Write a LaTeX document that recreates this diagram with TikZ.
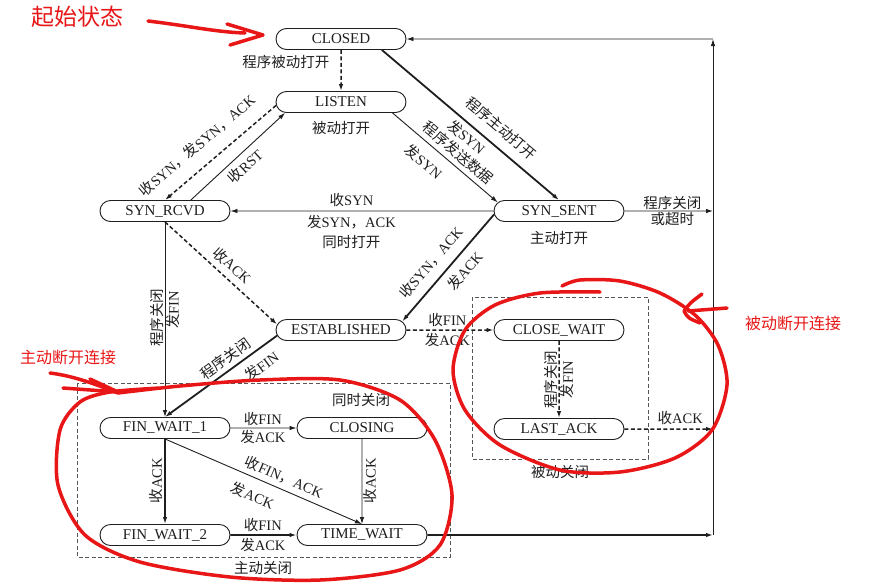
\documentclass[tikz,border=0pt]{standalone}
\usepackage{fontspec}
\setmainfont{Liberation Serif}
\newfontfamily\cjk{Noto Sans CJK SC}
\usetikzlibrary{arrows.meta,shapes.misc,positioning}
\newcommand{\zh}[1]{{\cjk #1}}
\definecolor{ink}{RGB}{30,30,30}
\definecolor{pen}{RGB}{232,22,22}
\tikzstyle{edge} = [draw=ink,line width=0.9pt,-{Latex[length=7pt,width=4.5pt]}]
\tikzstyle{hi} = [edge,line width=1.8pt]
\tikzstyle{lo} = [edge,line width=1.5pt,dash pattern=on 4pt off 2.5pt]
\tikzstyle{box} = [draw=ink!75,line width=0.8pt,dash pattern=on 4pt off 2.5pt]
\tikzstyle{redpen} = [draw=pen,line width=3.5pt,line cap=round,line join=round]

\begin{document}
\begin{tikzpicture}[x=1pt,y=-1pt,
  state/.style={rounded rectangle,draw=ink,line width=0.9pt,minimum width=130pt,
    minimum height=21pt,inner sep=0pt,text=ink,font=\fontsize{15}{17}\selectfont},
  lab/.style={inner sep=1pt,text=ink,font=\fontsize{14.5}{16}\selectfont},
  redtxt/.style={text=pen,font=\cjk\fontsize{16}{18}\selectfont}]
    \useasboundingbox (0,0) rectangle (886,587);

    % states
    \node[state] (CL) at (341,39) {CLOSED};
    \node[state] (LI) at (341,102) {LISTEN};
    \node[state] (SR) at (165,211) {SYN\_RCVD};
    \node[state] (SS) at (559,211) {SYN\_SENT};
    \node[state] (ES) at (341,330) {ESTABLISHED};
    \node[state] (CW) at (559,330) {CLOSE\_WAIT};
    \node[state] (LA) at (559,429) {LAST\_ACK};
    \node[state] (F1) at (165,428) {FIN\_WAIT\_1};
    \node[state] (CG) at (362,428) {CLOSING};
    \node[state] (F2) at (165,535) {FIN\_WAIT\_2};
    \node[state] (TW) at (362,535) {TIME\_WAIT};

    \coordinate (R0) at (713,39);
    \coordinate (R1) at (713,211);
    \coordinate (R2) at (713,429);
    \coordinate (R3) at (713,535);

    \node[lab,below=7pt of LI] (t33) {\zh{被动打开}};
    \node[lab,below=8pt of SS] (t34) {\zh{主动打开}};

    % groups
    \draw[box] (77,383) rectangle (450,557);
    \draw[box] (472,297) rectangle (648,459);
    \node[lab] (g1) at (361,400) {\zh{同时关闭}};
    \node[lab] (g2) at (263,568) {\zh{主动关闭}};
    \node[lab] (g3) at (560,472) {\zh{被动关闭}};

    % transitions
    \draw[lo] (CL) -- (LI) node[lab,left=10pt,pos=0.3] (t1) {\zh{程序被动打开}};
    \draw[lo] (LI.183) -- (SR.north)
        node[lab,sloped,above=12pt,pos=0.59] (t2) {\zh{收}SYN\zh{，发}SYN\zh{，}ACK};
    \draw[edge] (SR.23) -- (LI.191) node[lab,sloped,below=4pt,pos=0.49] (t3) {\zh{收}RST};
    \draw[hi] (CL.-15) -- (SS.north)
        node[lab,sloped,above=9pt,pos=0.61] (t4) {\zh{程序主动打开}}
        node[lab,sloped,below=3pt,pos=0.52] (t5) {\zh{发}SYN};
    \draw[edge] (LI.-12) -- (SS.172)
        node[lab,sloped,above=4pt,pos=0.55] (t6) {\zh{程序发送数据}}
        node[lab,sloped,below=9pt,pos=0.40] (t7) {\zh{发}SYN};
    \draw[edge] (SS) -- (SR)
        node[lab,above=3pt,pos=0.54] (t8) {\zh{收}SYN}
        node[lab,below=3pt,pos=0.54] (t9) {\zh{发}SYN\zh{，}ACK};
    \node[lab,below=3pt of t9] (t10) {\zh{同时打开}};
    \draw[hi] (SS.183) -- (ES.8)
        node[lab,sloped,above=8pt,pos=0.55] (t11) {\zh{收}SYN\zh{，}ACK}
        node[lab,sloped,below=6pt,pos=0.44] (t12) {\zh{发}ACK};
    \draw[lo] (SR.south) -- (ES.175) node[lab,sloped,above=5pt,pos=0.52] (t13) {\zh{收}ACK};
    \draw[edge] (SR.south) -- (F1.north)
        node[lab,rotate=90,anchor=south,pos=0.49] (t14) {\zh{程序关闭}}
        node[lab,rotate=90,anchor=north,pos=0.45] (t15) {\zh{发}FIN};
    \draw[hi] (ES.185) -- (F1.north)
        node[lab,sloped,above=3pt,pos=0.40] (t16) {\zh{程序关闭}}
        node[lab,sloped,below=7pt,pos=0.22] (t17) {\zh{发}FIN};
    \draw[lo] (ES) -- (CW)
        node[lab,above=2pt,pos=0.47] (t18) {\zh{收}FIN}
        node[lab,below=2pt,pos=0.47] (t19) {\zh{发}ACK};
    \draw[lo] (CW) -- (LA)
        node[lab,rotate=90,anchor=south,pos=0.5] (t20) {\zh{程序关闭}}
        node[lab,rotate=90,anchor=north,pos=0.5] (t21) {\zh{发}FIN};
    \draw[lo] (LA) -- (R2) node[lab,above=3pt,pos=0.63] (t22) {\zh{收}ACK};
    \draw[edge] (SS) -- (R1)
        node[lab,above=0pt,pos=0.54] (t23) {\zh{程序关闭}}
        node[lab,below=0pt,pos=0.54] (t24) {\zh{或超时}};
    \draw[hi] (TW) -- (R3);
    \draw[edge] (R3) -- (R0);
    \draw[edge] (R0) -- (CL);
    \draw[edge] (F1) -- (CG)
        node[lab,above=1pt,pos=0.49] (t25) {\zh{收}FIN}
        node[lab,below=1pt,pos=0.49] (t26) {\zh{发}ACK};
    \draw[hi] (F1) -- (F2) node[lab,rotate=90,anchor=south,pos=0.49] (t27) {\zh{收}ACK};
    \draw[edge] (F1.south) -- (TW.north)
        node[lab,sloped,above=4pt,pos=0.58] (t28) {\zh{收}FIN\zh{，}ACK}
        node[lab,sloped,below=9pt,pos=0.48] (t29) {\zh{发}ACK};
    \draw[edge] (CG) -- (TW) node[lab,rotate=90,anchor=north,pos=0.49] (t30) {\zh{收}ACK};
    \draw[hi] (F2) -- (TW)
        node[lab,above=1pt,pos=0.49] (t31) {\zh{收}FIN}
        node[lab,below=1pt,pos=0.49] (t32) {\zh{发}ACK};

    % red notes
    \node[redtxt,font=\cjk\fontsize{23}{25}\selectfont] (a1) at (77,17) {起始状态};
    \node[redtxt] (a2) at (68,357) {主动断开连接};
    \node[redtxt] (a3) at (793,323) {被动断开连接};
    \draw[redpen] (148,21) .. controls (190,26) and (215,32) .. (245,33);
    \draw[redpen] (227,24) -- (263,35) -- (230,45);
    \draw[redpen] (50,373) .. controls (75,376) and (100,386) .. (118,393);
    \draw[redpen] (90,379) -- (118,392) -- (63,388);
    \draw[redpen] plot[smooth] coordinates {(118,393) (180,386) (260,380) (340,380)
        (400,400) (435,440) (452,495) (440,545) (400,570) (320,580) (230,577)
        (140,562) (85,535) (58,485) (60,430) (80,402) (110,392) (160,388)};
    \draw[redpen] plot[smooth] coordinates {(600,292) (540,293) (495,305) (465,330)
        (453,370) (465,410) (500,445) (560,470) (620,472) (675,458) (712,430)
        (727,385) (718,345) (695,315) (660,293) (620,281) (580,280) (562,286)};
    \draw[redpen] (727,308) -- (688,311);
    \draw[redpen] (702,294) .. controls (690,303) .. (684,311) .. controls (688,318) .. (700,323);
\end{tikzpicture}
\end{document}
